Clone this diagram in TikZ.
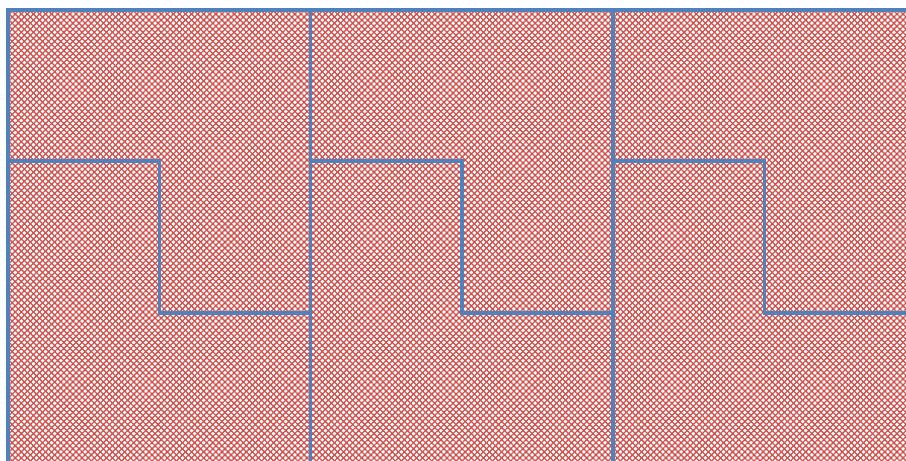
\documentclass[tikz,border=0pt]{standalone}
\usepackage{xcolor}
\usepackage{tikz}
\usetikzlibrary{patterns.meta}
\definecolor{hatchRed}{HTML}{D0504C}
\definecolor{edgeBlue}{HTML}{4F81BD}

\begin{document}
\begin{tikzpicture}[
  x=1pt, y=-1pt,
  hatchA/.style={pattern={Lines[angle=45, distance=4.3pt, line width=1.3pt]}, pattern color=hatchRed},
  hatchB/.style={pattern={Lines[angle=-45, distance=4.3pt, line width=1.3pt]}, pattern color=hatchRed},
  edge/.style={draw=edgeBlue, line width=3.2pt, line cap=rect},
]
  \useasboundingbox (0,0) rectangle (906,461);

  \coordinate (area_nw) at (8, 10);
  \coordinate (area_se) at (906, 461);

  % red cross hatching over the whole area
  \fill[white] (area_nw) rectangle (area_se);
  \fill[hatchA] (area_nw) rectangle (area_se);
  \fill[hatchB] (area_nw) rectangle (area_se);

  % top edge
  \draw[edge] (area_nw) -- (906, 10);

  % three columns, each with one step
  \foreach \x in {8, 310.5, 613} {
    \draw[edge] (\x, 10) -- (\x, 470);
    \draw[edge] (\x, 161) -- (\x+151.5, 161) -- (\x+151.5, 313) -- (\x+302.5, 313);
  }
\end{tikzpicture}
\end{document}
